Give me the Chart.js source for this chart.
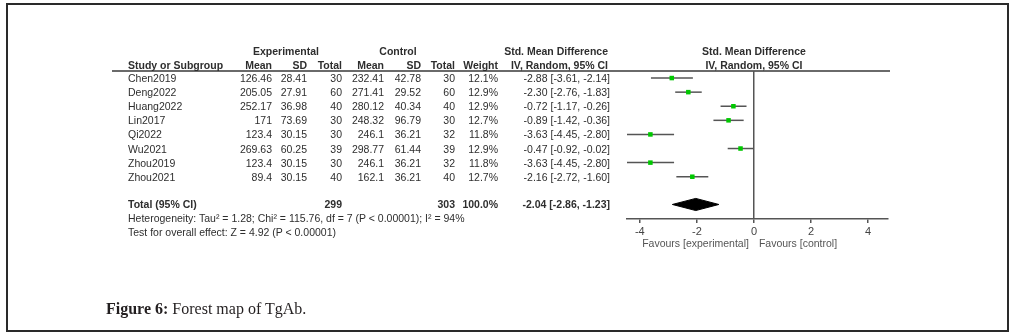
<!DOCTYPE html>
<html><head><meta charset="utf-8">
<script src="https://cdn.jsdelivr.net/npm/chart.js@4.4.1/dist/chart.umd.min.js"></script>
<style>
html,body{margin:0;padding:0;background:#fff;width:1012px;height:335px;overflow:hidden;}
#wrap{position:relative;width:1012px;height:335px;}
#c{position:absolute;left:0;top:0;}
.t{position:absolute;white-space:nowrap;font-family:'Liberation Sans',Arial,sans-serif;font-size:10.5px;line-height:14px;height:14px;color:#2e2e2e;}
.b{font-weight:bold;}
.g{color:#555;}
#frame{position:absolute;left:6px;top:3px;width:1003px;height:329px;box-sizing:border-box;border:2px solid #2a2a2a;}
#hline{position:absolute;left:112px;top:70px;width:778px;height:2px;background:#6a6a6a;}
#cap{position:absolute;left:106px;top:299px;line-height:20px;font-family:'Liberation Serif','Times New Roman',serif;font-size:16px;color:#231f20;white-space:nowrap;}
</style></head><body>
<div id="wrap">
<div id="frame"></div>
<div id="hline"></div>
<canvas id="c" width="1012" height="335"></canvas>
<div id="txt"></div>
<div id="cap"><b>Figure 6:</b> Forest map of TgAb.</div>
</div>
<script>
// ---- data ----
const studies = ['Chen2019','Deng2022','Huang2022','Lin2017','Qi2022','Wu2021','Zhou2019','Zhou2021'];
const expMean = [126.46, 205.05, 252.17, 171, 123.4, 269.63, 123.4, 89.4];
const expSD = [28.41, 27.91, 36.98, 73.69, 30.15, 60.25, 30.15, 30.15];
const expTotal = [30, 60, 40, 30, 30, 39, 30, 40];
const ctlMean = [232.41, 271.41, 280.12, 248.32, 246.1, 298.77, 246.1, 162.1];
const ctlSD = [42.78, 29.52, 40.34, 96.79, 36.21, 61.44, 36.21, 36.21];
const ctlTotal = [30, 60, 40, 30, 32, 39, 32, 40];
const weights = [12.1, 12.9, 12.9, 12.7, 11.8, 12.9, 11.8, 12.7];
const smd = [-2.88, -2.30, -0.72, -0.89, -3.63, -0.47, -3.63, -2.16];
const ciLow = [-3.61, -2.76, -1.17, -1.42, -4.45, -0.92, -4.45, -2.72];
const ciHigh = [-2.14, -1.83, -0.26, -0.36, -2.80, -0.02, -2.80, -1.60];
const totalExp = 299;
const totalCtl = 303;
const totalWeight = 100.0;
const totalSmd = -2.04;
const totalLow = -2.86;
const totalHigh = -1.23;
const xTicks = [-4, -2, 0, 2, 4];
const heterogeneity = 'Heterogeneity: Tau\u00b2 = 1.28; Chi\u00b2 = 115.76, df = 7 (P < 0.00001); I\u00b2 = 94%';
const overallTest = 'Test for overall effect: Z = 4.92 (P < 0.00001)';

// ---- chart ----
const totalRow = studies.length + 0.97;
const dh = 0.43;
const FONT = "'Liberation Sans', Arial, sans-serif";

const markerSet = {
  data: smd.map((v, i) => ({x: v, y: i})),
  pointStyle: 'rect', pointRadius: 3.2, pointBackgroundColor: '#00c800', pointBorderWidth: 0, showLine: false
};
const ciSets = studies.map((s, i) => ({
  data: [{x: ciLow[i], y: i}, {x: ciHigh[i], y: i}],
  showLine: true, borderColor: '#555', borderWidth: 1.5, pointRadius: 0, fill: false
}));
const diamondSet = {
  data: [{x: totalLow, y: totalRow}, {x: totalSmd, y: totalRow - dh}, {x: totalHigh, y: totalRow}, {x: totalSmd, y: totalRow + dh}, {x: totalLow, y: totalRow}],
  showLine: true, borderColor: '#000', borderWidth: 1, backgroundColor: '#000', fill: 'shape', pointRadius: 0, tension: 0
};

const chart = new Chart(document.getElementById('c'), {
  type: 'scatter',
  data: {datasets: [markerSet, ...ciSets, diamondSet]},
  options: {
    responsive: false, animation: false, devicePixelRatio: 1,
    layout: {padding: {left: 627, right: 124, top: 71, bottom: 0}},
    plugins: {legend: {display: false}, tooltip: {enabled: false}},
    scales: {
      x: {
        type: 'linear', min: -4.45, max: 4.7,
        afterBuildTicks: s => { s.ticks = xTicks.map(v => ({value: v})); },
        afterFit: s => { s.height = 116; },
        grid: {
          drawOnChartArea: true, drawTicks: true, tickLength: 4,
          color: c => (c.tick && c.tick.value === 0) ? '#555' : 'rgba(0,0,0,0)',
          tickColor: '#555', lineWidth: 1.5, tickWidth: 1.5
        },
        border: {display: true, color: '#555', width: 1.5},
        ticks: {color: '#444', font: {family: FONT, size: 11}, padding: 2, maxRotation: 0, autoSkip: false}
      },
      y: {type: 'linear', reverse: true, min: -0.5, max: 10.0, display: false}
    }
  }
});

// ---- table text ----
const txt = document.getElementById('txt');
function put(text, x, y, align, cls) {
  const d = document.createElement('div');
  d.className = 't ' + (cls || '');
  d.textContent = text;
  const W = 400;
  if (align === 'right') { d.style.left = (x - W) + 'px'; d.style.width = W + 'px'; d.style.textAlign = 'right'; }
  else if (align === 'center') { d.style.left = (x - W / 2) + 'px'; d.style.width = W + 'px'; d.style.textAlign = 'center'; }
  else { d.style.left = x + 'px'; }
  d.style.top = (y - 7) + 'px';
  txt.appendChild(d);
}
const col = {name: 128, em: 272, esd: 307, et: 342, cm: 384, csd: 421, ct: 455, w: 498, smd: 610};
const fmt2 = v => v.toFixed(2);
const ciText = (m, l, h) => fmt2(m) + ' [' + fmt2(l) + ', ' + fmt2(h) + ']';

// headers
put('Experimental', 286, 51, 'center', 'b');
put('Control', 398, 51, 'center', 'b');
put('Std. Mean Difference', 608, 51, 'right', 'b');
const x0 = chart.scales.x.getPixelForValue(0);
put('Std. Mean Difference', x0, 51, 'center', 'b');
put('Study or Subgroup', col.name, 64.5, 'left', 'b');
put('Mean', col.em, 64.5, 'right', 'b');
put('SD', col.esd, 64.5, 'right', 'b');
put('Total', col.et, 64.5, 'right', 'b');
put('Mean', col.cm, 64.5, 'right', 'b');
put('SD', col.csd, 64.5, 'right', 'b');
put('Total', col.ct, 64.5, 'right', 'b');
put('Weight', col.w, 64.5, 'right', 'b');
put('IV, Random, 95% CI', 608, 64.5, 'right', 'b');
put('IV, Random, 95% CI', x0, 64.5, 'center', 'b');

studies.forEach((s, i) => {
  const y = chart.scales.y.getPixelForValue(i);
  put(s, col.name, y, 'left');
  put(String(expMean[i]), col.em, y, 'right');
  put(String(expSD[i]), col.esd, y, 'right');
  put(String(expTotal[i]), col.et, y, 'right');
  put(String(ctlMean[i]), col.cm, y, 'right');
  put(String(ctlSD[i]), col.csd, y, 'right');
  put(String(ctlTotal[i]), col.ct, y, 'right');
  put(weights[i].toFixed(1) + '%', col.w, y, 'right');
  put(ciText(smd[i], ciLow[i], ciHigh[i]), col.smd, y, 'right');
});
const yt = chart.scales.y.getPixelForValue(totalRow);
put('Total (95% CI)', col.name, yt, 'left', 'b');
put(String(totalExp), col.et, yt, 'right', 'b');
put(String(totalCtl), col.ct, yt, 'right', 'b');
put(totalWeight.toFixed(1) + '%', col.w, yt, 'right', 'b');
put(ciText(totalSmd, totalLow, totalHigh), col.smd, yt, 'right', 'b');
put(heterogeneity, col.name, yt + 13.5, 'left');
put(overallTest, col.name, yt + 27.5, 'left');
put('Favours [experimental]', x0 - 5, 243, 'right', 'g');
put('Favours [control]', x0 + 5, 243, 'left', 'g');
</script>
</body></html>
